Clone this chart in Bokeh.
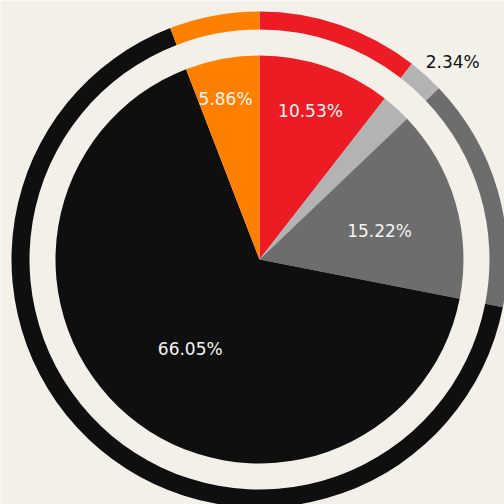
import math
from bokeh.plotting import figure
from bokeh.models import ColumnDataSource
from bokeh.core.properties import value
from bokeh.embed import file_html
from bokeh.resources import INLINE

# data
categories = ["A", "B", "C", "D", "E"]
shares = [10.53, 2.34, 15.22, 66.05, 5.86]
labels = ["10.53%", "2.34%", "15.22%", "66.05%", "5.86%"]
colors = ["#ED1C24", "#B3B3B3", "#6D6D6D", "#0F0F0F", "#FF7F00"]

# layout
W = H = 504
cx, cy = 259, 245
r_pie = 204
r_in, r_out = 230, 248
label_r = [157, 276, 123.5, 113, 164.5]
label_da = [0.0, -2.3, -2.7, 2.2, 1.35]  # degrees
label_col = ["#F4F4F4", "#111111", "#F4F4F4", "#F4F4F4", "#F4F4F4"]

total = sum(shares)
starts, ends, mids = [], [], []
acc = 0.0
for s in shares:
    a0 = math.pi / 2 - acc / total * 2 * math.pi
    acc += s
    a1 = math.pi / 2 - acc / total * 2 * math.pi
    starts.append(a0)
    ends.append(a1)
    mids.append((a0 + a1) / 2)

la = [m + math.radians(d) for m, d in zip(mids, label_da)]
lx = [cx + r * math.cos(a) for r, a in zip(label_r, la)]
ly = [cy + r * math.sin(a) for r, a in zip(label_r, la)]

src = ColumnDataSource(dict(cat=categories, start=starts, end=ends, color=colors,
                            lx=lx, ly=ly, label=labels, lcol=label_col))

p = figure(width=W, height=H, x_range=(0, W), y_range=(0, H),
           output_backend="svg", toolbar_location=None, min_border=0)
p.axis.visible = False
p.grid.visible = False
p.outline_line_color = None
p.background_fill_color = "#F2F0E8"
p.border_fill_color = "#F2F0E8"

p.wedge(x=cx, y=cy, radius=r_pie, start_angle="start", end_angle="end",
        direction="clock", fill_color="color", line_color=None, source=src)
p.annular_wedge(x=cx, y=cy, inner_radius=r_in, outer_radius=r_out,
                start_angle="start", end_angle="end", direction="clock",
                fill_color="color", line_color=None, source=src)
p.text(x="lx", y="ly", text="label", text_color="lcol", text_align="center",
       text_baseline="middle", text_font=value("DejaVu Sans"),
       text_font_size="17px", source=src)

open("out.html", "w").write(file_html(p, INLINE))
